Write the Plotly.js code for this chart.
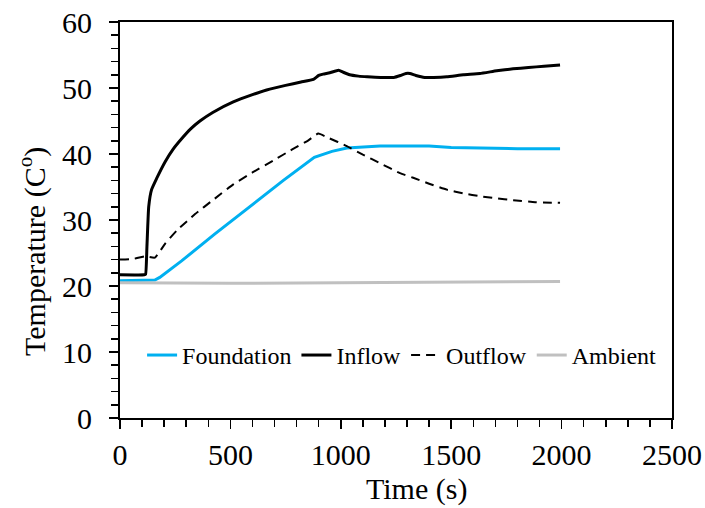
<!DOCTYPE html>
<html>
<head>
<meta charset="utf-8">
<script src="https://cdn.plot.ly/plotly-3.0.1.min.js"></script>
<style>html,body{margin:0;padding:0;background:#fff;}#chart{width:705px;height:508px;}</style>
</head>
<body>
<div id="chart"></div>
<script>
// Time (s) and temperature (°C) values
const inflowTime = [0, 110, 116, 122, 130, 143, 166, 204, 240, 279, 320, 362, 420, 513, 600, 664, 750, 820, 876, 900, 920, 950, 990, 1010, 1040, 1080, 1120, 1180, 1240, 1270, 1295, 1313, 1340, 1380, 1420, 1480, 1555, 1630, 1706, 1780, 1850, 1920, 1993];
const inflowTemp = [21.7, 21.7, 21.8, 26.0, 32.0, 34.6, 36.3, 38.8, 40.7, 42.3, 43.8, 45.0, 46.3, 47.9, 49.0, 49.7, 50.4, 50.9, 51.3, 51.9, 52.1, 52.3, 52.7, 52.4, 52.0, 51.8, 51.7, 51.6, 51.6, 51.9, 52.2, 52.2, 51.9, 51.6, 51.6, 51.7, 52.0, 52.2, 52.6, 52.9, 53.1, 53.3, 53.5];

const outflowTime = [0, 60, 113, 158, 204, 260, 340, 420, 513, 600, 694, 780, 850, 898, 940, 1027, 1100, 1178, 1268, 1328, 1400, 1480, 1560, 1630, 1700, 1781, 1880, 1993];
const outflowTemp = [24.0, 24.1, 24.5, 24.3, 26.4, 28.5, 30.9, 33.0, 35.4, 37.2, 39.0, 40.7, 42.0, 43.1, 42.5, 41.2, 39.9, 38.6, 37.1, 36.4, 35.5, 34.6, 34.0, 33.6, 33.3, 33.0, 32.7, 32.6];

const foundationTime = [0, 100, 158, 180, 230, 279, 430, 566, 740, 880, 906, 960, 1027, 1100, 1178, 1268, 1400, 1500, 1630, 1800, 1993];
const foundationTemp = [20.8, 20.8, 20.9, 21.3, 22.5, 23.8, 27.9, 31.5, 36.0, 39.5, 39.8, 40.4, 40.9, 41.1, 41.2, 41.2, 41.2, 41.0, 40.9, 40.8, 40.8];

const ambientTime = [0, 500, 1000, 1500, 1993];
const ambientTemp = [20.5, 20.4, 20.5, 20.6, 20.7];

const xTicks = [0, 500, 1000, 1500, 2000, 2500];
const yTicks = [0, 10, 20, 30, 40, 50, 60];
const xTitle = 'Time (s)';
const yTitle = 'Temperature (C<sup>o</sup>)';

const traces = [
  {x: foundationTime, y: foundationTemp, name: 'Foundation', mode: 'lines', line: {color: '#00b0f0', width: 3}},
  {x: inflowTime, y: inflowTemp, name: 'Inflow', mode: 'lines', line: {color: '#000000', width: 3, shape: 'spline', smoothing: 0.4}},
  {x: outflowTime, y: outflowTemp, name: 'Outflow', mode: 'lines', line: {color: '#000000', width: 2, dash: '9px,6px', shape: 'spline', smoothing: 0.4}},
  {x: ambientTime, y: ambientTemp, name: 'Ambient', mode: 'lines', line: {color: '#c0c0c0', width: 3}}
];

const serif = 'Liberation Serif, Times New Roman, Times, serif';
const f = (size) => ({family: serif, color: '#000', size: size});

const layout = {
  width: 705, height: 508,
  margin: {l: 120, r: 33, t: 22, b: 90},
  paper_bgcolor: '#fff', plot_bgcolor: '#fff',
  font: f(24),
  showlegend: true,
  legend: {
    orientation: 'h', x: 0.04, y: 0.158, xanchor: 'left', yanchor: 'middle',
    font: f(24),
    bgcolor: 'rgba(0,0,0,0)', itemwidth: 30, tracegroupgap: 0,
    traceorder: 'normal'
  },
  xaxis: {
    range: [0, 2500], tickvals: xTicks, ticktext: xTicks.map(String),
    ticks: 'outside', ticklen: 9, tickwidth: 1.5, tickcolor: '#000',
    minor: {dtick: 100, ticks: 'outside', ticklen: 7, tickwidth: 1.5, tickcolor: '#000', showgrid: false},
    showline: true, linecolor: '#000', linewidth: 2, mirror: true,
    showgrid: false, zeroline: false,
    ticklabelstandoff: 0,
    tickfont: f(30)
  },
  yaxis: {
    range: [0, 60], tickvals: yTicks, ticktext: yTicks.map(String),
    ticks: 'outside', ticklen: 9, tickwidth: 1.5, tickcolor: '#000',
    minor: {dtick: 2, ticks: 'outside', ticklen: 7, tickwidth: 1.5, tickcolor: '#000', showgrid: false},
    showline: true, linecolor: '#000', linewidth: 2, mirror: true,
    showgrid: false, zeroline: false,
    ticklabelstandoff: 11,
    tickfont: f(30)
  },
  annotations: [
    {text: xTitle, xref: 'paper', yref: 'paper', x: (417 - 120) / 552, y: -(489 - 418) / 396,
     xanchor: 'center', yanchor: 'middle', showarrow: false, font: f(30)},
    {text: yTitle, xref: 'paper', yref: 'paper', x: -(120 - 32) / 552, y: (418 - 252) / 396,
     xanchor: 'center', yanchor: 'middle', textangle: -90, showarrow: false, font: f(30)}
  ]
};

Plotly.newPlot('chart', traces, layout, {displayModeBar: false, staticPlot: true});
</script>
</body>
</html>
